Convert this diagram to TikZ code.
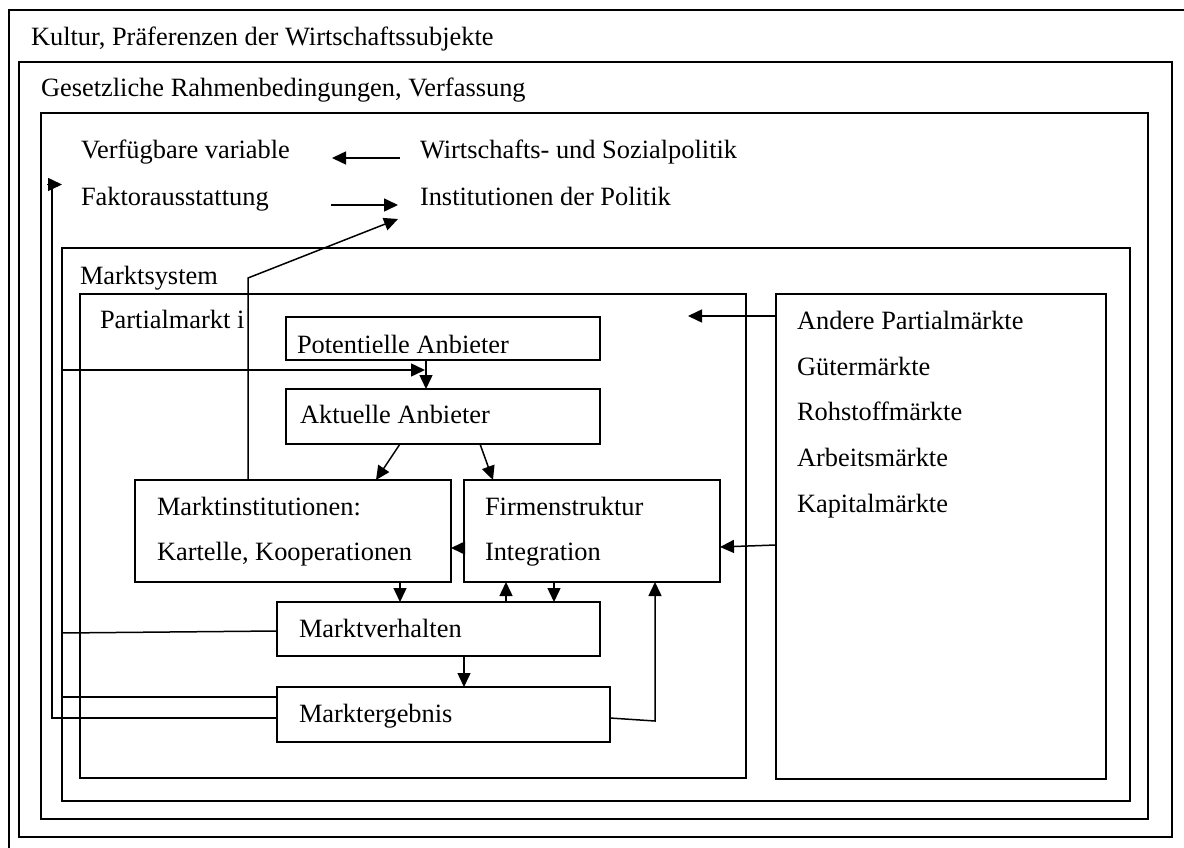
\documentclass[tikz,border=0pt]{standalone}
\usepackage{fontspec}
\setmainfont{Liberation Serif}
\usetikzlibrary{arrows.meta}
\begin{document}
\begin{tikzpicture}[x=1pt,y=-1pt,
  frame/.style={draw, line width=1.5pt, rectangle, inner sep=0pt, outer sep=0pt, anchor=north west},
  lbl/.style={anchor=base west, inner sep=0pt, outer sep=0pt, font=\fontsize{26.4}{30}\selectfont},
  conn/.style={line width=1.5pt},
  arr/.style={line width=1.5pt, -{Triangle[length=14pt,width=13pt]}},
]
\clip (0,0) rectangle (1184,848);
\fill[white] (0,0) rectangle (1184,848);
% frames
\node[frame, minimum width=1181pt, minimum height=850pt] (outer) at (9,10) {};
\node[frame, minimum width=1153pt, minimum height=775pt] (gesetz) at (19,62) {};
\node[frame, minimum width=1107pt, minimum height=706pt] (pol) at (41,113) {};
\node[frame, minimum width=1068pt, minimum height=553pt] (msys) at (62,248) {};
\node[frame, minimum width=666pt, minimum height=484pt] (partial) at (80,294) {};
\node[frame, minimum width=330pt, minimum height=485pt] (andere) at (776,294) {};
\node[frame, minimum width=314pt, minimum height=43pt] (pot) at (286,317) {};
\node[frame, minimum width=314pt, minimum height=55pt] (akt) at (286,389) {};
\node[frame, minimum width=316pt, minimum height=102pt] (mi) at (135,480) {};
\node[frame, minimum width=256pt, minimum height=102pt] (fs) at (464,480) {};
\node[frame, minimum width=323pt, minimum height=54pt] (mv) at (277,602) {};
\node[frame, minimum width=333pt, minimum height=55pt] (me) at (277,687) {};
% labels
\node[lbl] (tkultur) at (31,46) {Kultur, Präferenzen der Wirtschaftssubjekte};
\node[lbl] (tgesetz) at (41,97) {Gesetzliche Rahmenbedingungen, Verfassung};
\node[lbl] (tvv) at (81,159) {Verfügbare variable};
\node[lbl] (twsp) at (420,159) {Wirtschafts- und Sozialpolitik};
\node[lbl] (tfa) at (81,205) {Faktorausstattung};
\node[lbl] (tip) at (420,205) {Institutionen der Politik};
\node[lbl] (tmsys) at (80,284) {Marktsystem};
\node[lbl] (tpart) at (100,328) {Partialmarkt i};
\begin{scope}
\clip (pot.north west) rectangle ([yshift=7.5pt]pot.south east);
\node[lbl] (tpot) at (297,353) {Potentielle Anbieter};
\end{scope}
\node[lbl] (takt) at (300,423) {Aktuelle Anbieter};
\node[lbl] (tmi1) at (157,515) {Marktinstitutionen:};
\node[lbl] (tmi2) at (157,560) {Kartelle, Kooperationen};
\node[lbl] (tfs1) at (485,515) {Firmenstruktur};
\node[lbl] (tfs2) at (485,560) {Integration};
\node[lbl] (tmv) at (299,637) {Marktverhalten};
\node[lbl] (tme) at (299,722) {Marktergebnis};
\node[lbl] (tand1) at (797,329) {Andere Partialmärkte};
\node[lbl] (tand2) at (797,375) {Gütermärkte};
\node[lbl] (tand3) at (797,420) {Rohstoffmärkte};
\node[lbl] (tand4) at (797,466) {Arbeitsmärkte};
\node[lbl] (tand5) at (797,512) {Kapitalmärkte};
% coordinates
\coordinate (a1) at (400,158);
\coordinate (a2) at (332,158);
\coordinate (b1) at (331,205);
\coordinate (b2) at (398,205);
\coordinate (ctip) at (398,219);
\coordinate (gtip) at (425,370);
\coordinate (pin) at (688,316);
\coordinate (fbx) at (52,184.5);
\coordinate (mvL) at (62,633);
\coordinate (meU) at ([yshift=17.5pt]me.west);
\coordinate (meL) at ([yshift=-3.5pt]me.west);
% connectors
\draw[arr] (a1) -- (a2);
\draw[arr] (b1) -- (b2);
\draw[arr] ([xshift=113pt]mi.north west) -- ++(0,-202) -- (ctip);
\draw[arr] ([yshift=-122pt]msys.north west) -- (gtip);
\draw[arr] ([xshift=140pt]pot.south west) -- ([xshift=140pt]akt.north west);
\draw[arr] ([xshift=114pt]akt.south west) -- ([xshift=241pt]mi.north west);
\draw[arr] ([xshift=194pt]akt.south west) -- ([xshift=29pt]fs.north west);
\draw[arr] ([yshift=-68pt]fs.north west) -- ([yshift=-68pt]mi.north east);
\draw[arr] ([yshift=-22pt]andere.north west) -- (pin);
\draw[arr] ([yshift=-251pt]andere.north west) -- ([yshift=-67pt]fs.north east);
\draw[arr] ([xshift=265pt]mi.south west) -- ([xshift=123pt]mv.north west);
\draw[arr] ([xshift=229pt]mv.north west) -- ([xshift=42pt]fs.south west);
\draw[arr] ([xshift=90pt]fs.south west) -- ([xshift=277pt]mv.north west);
\draw[arr] ([xshift=187pt]mv.south west) -- ([xshift=187pt]me.north west);
\draw[arr] ([yshift=-31pt]me.north east) -- ++(45,3) -- ([xshift=191pt]fs.south west);
\draw[conn] ([yshift=-2pt]mv.west) -- (mvL);
\draw[conn] (meU) -- (meU -| msys.west);
\draw[conn] (meL) -- (meL -| fbx) -- (fbx);
\draw[arr] ([xshift=-5pt]fbx) -- (fbx -| msys.west);
\end{tikzpicture}
\end{document}
